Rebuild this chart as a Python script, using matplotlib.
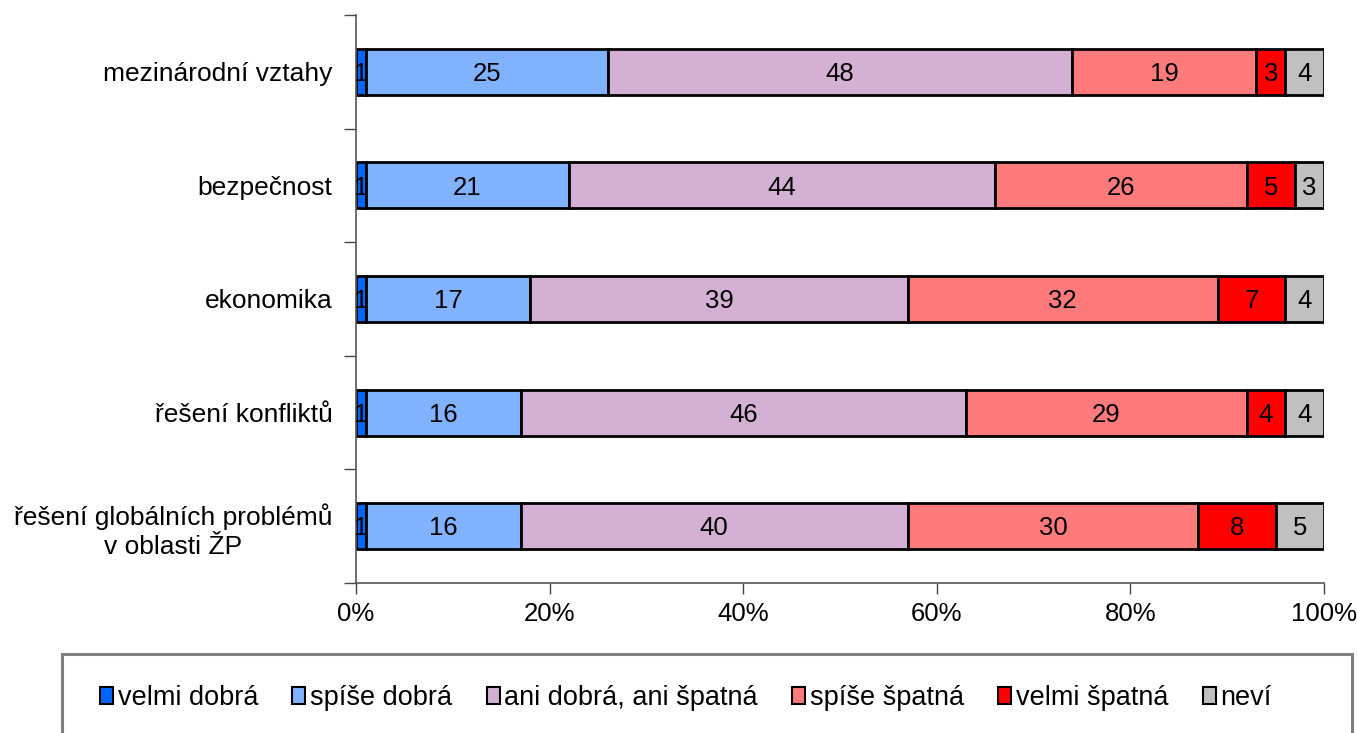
import matplotlib
matplotlib.use("Agg")
import matplotlib.pyplot as plt
import numpy as np
from matplotlib.patches import Rectangle, Patch

plt.rcParams['font.family'] = ['Liberation Sans', 'DejaVu Sans']

categories = ["mezinárodní vztahy", "bezpečnost", "ekonomika", "řešení konfliktů",
              "řešení globálních problémů\nv oblasti ŽP"]
series_names = ["velmi dobrá", "spíše dobrá", "ani dobrá, ani špatná",
                "spíše špatná", "velmi špatná", "neví"]
velmi_dobra = [1, 1, 1, 1, 1]
spise_dobra = [25, 21, 17, 16, 16]
ani = [48, 44, 39, 46, 40]
spise_spatna = [19, 26, 32, 29, 30]
velmi_spatna = [3, 5, 7, 4, 8]
nevi = [4, 3, 4, 4, 5]
series = [velmi_dobra, spise_dobra, ani, spise_spatna, velmi_spatna, nevi]
colors = ["#0066FF", "#80B2FF", "#D4B0D4", "#FF7B7B", "#FF0000", "#C0C0C0"]
xticks = [0, 20, 40, 60, 80, 100]
xticklabels = ["0%", "20%", "40%", "60%", "80%", "100%"]

fig = plt.figure(figsize=(13.57, 7.33), dpi=100)
ax = fig.add_axes([356/1357, 1-583/733, (1324-356)/1357, (583-15)/733])

y = np.arange(len(categories))
left = np.zeros(len(categories))
for name, vals, c in zip(series_names, series, colors):
    vals = np.array(vals, dtype=float)
    ax.barh(y, vals, left=left, height=0.405, color=c, edgecolor="black",
            linewidth=2, label=name)
    for yi, l, v in zip(y, left, vals):
        ax.text(l + v/2, yi + 0.02, f"{int(v)}", ha="center", va="center",
                fontsize=18.5, color="black")
    left += vals

ax.set_xlim(0, 100)
ax.set_ylim(4.5, -0.5)
ax.set_xticks(xticks)
ax.set_xticklabels(xticklabels, fontsize=18.5)
ax.set_yticks(y)
ax.set_yticklabels(categories, fontsize=19, linespacing=1.25)
ax.tick_params(axis='y', length=0, pad=17)
ax.set_yticks(np.arange(-0.5, 5, 1), minor=True)
ax.tick_params(axis='y', which='minor', length=9, color='#444444', width=1)
ax.tick_params(axis='x', length=8, color='#444444', width=1, pad=6)
for s in ["top", "right"]:
    ax.spines[s].set_visible(False)
for s in ["left", "bottom"]:
    ax.spines[s].set_color("#555555")
    ax.spines[s].set_linewidth(1.2)
for lab in ax.get_yticklabels():
    lab.set_multialignment('center')

# legend box
fig.patches.append(Rectangle((62/1357, -0.05), (1352-62)/1357, 0.05 + 1-654/733,
                             transform=fig.transFigure, fill=False,
                             edgecolor="#808080", linewidth=2.2))
hs = [Patch(facecolor=c, edgecolor="black", linewidth=1.5) for c in colors]
fig.legend(hs, series_names, loc="center", bbox_to_anchor=(686/1357, 1-698/733),
           ncol=6, frameon=False, fontsize=19.5, handlelength=0.48, handleheight=0.6,
           handletextpad=0.18, columnspacing=1.26, borderpad=0, borderaxespad=0)

fig.savefig("out.png", dpi=100)
